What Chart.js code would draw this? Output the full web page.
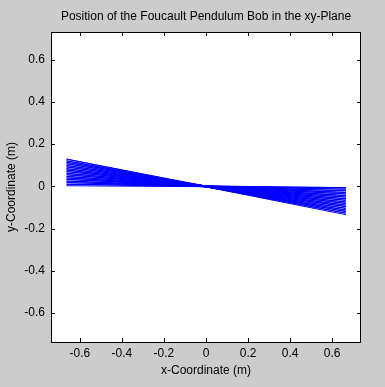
<!DOCTYPE html>
<html>
<head>
<meta charset="utf-8">
<title>Foucault Pendulum Bob</title>
<script src="https://cdn.jsdelivr.net/npm/chart.js@4.4.1/dist/chart.umd.min.js"></script>
<style>
  html, body { margin: 0; padding: 0; background: #cccccc; }
  #wrap { width: 385px; height: 387px; }
</style>
</head>
<body>
<div id="wrap"><canvas id="pendulumChart" width="385" height="387"></canvas></div>
<script>
// Tick labels on both axes
const xTicks = [-0.6, -0.4, -0.2, 0, 0.2, 0.4, 0.6];
const yTicks = [-0.6, -0.4, -0.2, 0, 0.2, 0.4, 0.6];

// Turning points of each swing
const swingLeftX = -0.663;
const swingRightX = 0.665;
const leftY = [0.003, 0.010, 0.018, 0.025, 0.033, 0.040, 0.047, 0.055, 0.062,
  0.070, 0.077, 0.084, 0.092, 0.099, 0.107, 0.114, 0.121, 0.129];
const rightY = [-0.006, -0.013, -0.021, -0.029, -0.036, -0.044, -0.051, -0.059, -0.066,
  -0.074, -0.081, -0.089, -0.096, -0.104, -0.112, -0.119, -0.127, -0.134];

const FONT = '"Liberation Sans", Arial, Helvetica, sans-serif';

/**
 * Build the bob path: left turn -> right turn -> next left turn ...
 */
function buildPath() {
  const pts = [];
  for (let i = 0; i < leftY.length; i++) {
    pts.push({ x: swingLeftX, y: leftY[i] });
    pts.push({ x: swingRightX, y: rightY[i] });
  }
  return pts;
}

function fmtTick(v) {
  return v === 0 ? '0' : v.toFixed(1);
}

// Gray figure, white axes, black box with inward ticks, title
const matlabAxes = {
  id: 'matlabAxes',
  beforeDraw(chart) {
    const { ctx, chartArea: a } = chart;
    ctx.save();
    ctx.fillStyle = '#cccccc';
    ctx.fillRect(0, 0, chart.width, chart.height);
    ctx.fillStyle = '#ffffff';
    ctx.fillRect(a.left, a.top, a.right - a.left, a.bottom - a.top);
    ctx.restore();
  },
  afterDraw(chart) {
    const { ctx, chartArea: a } = chart;
    const xs = chart.scales.x;
    const ys = chart.scales.y;
    const len = 4;
    ctx.save();
    ctx.strokeStyle = '#000000';
    ctx.lineWidth = 1;
    ctx.beginPath();
    xTicks.forEach(v => {
      const px = Math.round(xs.getPixelForValue(v)) + 0.5;
      ctx.moveTo(px, a.bottom);
      ctx.lineTo(px, a.bottom - len);
      ctx.moveTo(px, a.top);
      ctx.lineTo(px, a.top + len);
    });
    yTicks.forEach(v => {
      const py = Math.round(ys.getPixelForValue(v)) + 0.5;
      ctx.moveTo(a.left, py);
      ctx.lineTo(a.left + len, py);
      ctx.moveTo(a.right, py);
      ctx.lineTo(a.right - len, py);
    });
    ctx.stroke();
    ctx.strokeRect(a.left + 0.5, a.top + 0.5, a.right - a.left - 1, a.bottom - a.top);

    ctx.fillStyle = '#000000';
    ctx.font = '12px ' + FONT;
    ctx.textAlign = 'center';
    ctx.textBaseline = 'middle';
    ctx.fillText('Position of the Foucault Pendulum Bob in the xy-Plane', (a.left + a.right) / 2, 17);
    ctx.restore();
  }
};

function initPendulumChart() {
  const ctx = document.getElementById('pendulumChart');
  new Chart(ctx, {
    type: 'scatter',
    data: {
      datasets: [{
        data: buildPath(),
        showLine: true,
        borderColor: '#0000ff',
        borderWidth: 1,
        pointRadius: 0,
        tension: 0
      }]
    },
    options: {
      responsive: false,
      animation: false,
      layout: { padding: { top: 32, right: 24, bottom: 0, left: 0 } },
      plugins: {
        legend: { display: false },
        tooltip: { enabled: false }
      },
      scales: {
        x: {
          type: 'linear',
          min: -0.737,
          max: 0.737,
          afterBuildTicks: s => { s.ticks = xTicks.map(v => ({ value: v })); },
          afterFit: s => { s.height = 45; },
          grid: { display: false, drawTicks: false },
          border: { display: false },
          ticks: {
            callback: fmtTick,
            color: '#000000',
            font: { size: 12, family: FONT },
            padding: 4,
            maxRotation: 0,
            autoSkip: false
          },
          title: {
            display: true,
            text: 'x-Coordinate (m)',
            color: '#000000',
            font: { size: 12, family: FONT },
            padding: { top: 0, bottom: 9 }
          }
        },
        y: {
          type: 'linear',
          min: -0.737,
          max: 0.731,
          afterBuildTicks: s => { s.ticks = yTicks.map(v => ({ value: v })); },
          afterFit: s => { s.width = 51; },
          grid: { display: false, drawTicks: false },
          border: { display: false },
          ticks: {
            callback: fmtTick,
            color: '#000000',
            font: { size: 12, family: FONT },
            padding: 6,
            autoSkip: false
          },
          title: {
            display: true,
            text: 'y-Coordinate (m)',
            color: '#000000',
            font: { size: 12, family: FONT },
            padding: { top: 4, bottom: 0 }
          }
        }
      }
    },
    plugins: [matlabAxes]
  });
}

initPendulumChart();
</script>
</body>
</html>
